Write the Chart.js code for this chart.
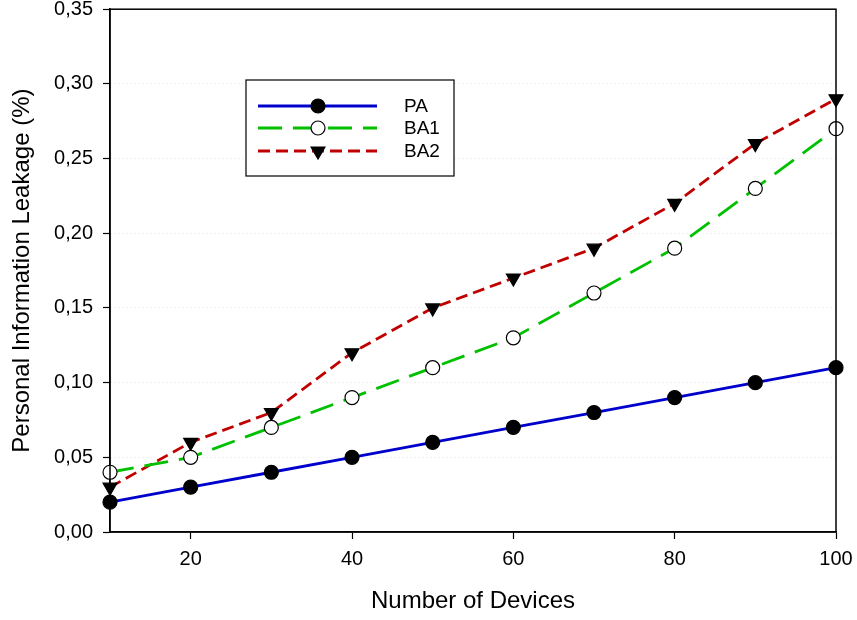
<!DOCTYPE html>
<html>
<head>
<meta charset="utf-8">
<script src="https://cdn.jsdelivr.net/npm/chart.js@4/dist/chart.umd.min.js"></script>
<style>
  body { margin: 0; background: #fff; }
  #wrap { width: 857px; height: 620px; }
</style>
</head>
<body>
<div id="wrap"><canvas id="grafico"></canvas></div>
<script>
// dados
var devices = [10, 20, 30, 40, 50, 60, 70, 80, 90, 100];
var xTicks = [20, 40, 60, 80, 100];
var valPA  = [0.02, 0.03, 0.04, 0.05, 0.06, 0.07, 0.08, 0.09, 0.10, 0.11];
var valBA1 = [0.04, 0.05, 0.07, 0.09, 0.11, 0.13, 0.16, 0.19, 0.23, 0.27];
var valBA2 = [0.03, 0.06, 0.08, 0.12, 0.15, 0.17, 0.19, 0.22, 0.26, 0.29];
var nomes = ['PA', 'BA1', 'BA2'];

function pares(vals) {
  return devices.map(function (d, i) { return { x: d, y: vals[i] }; });
}

var fonte = '"Liberation Sans", Arial, sans-serif';

// caixa em volta da area do grafico
var moldura = {
  id: 'moldura',
  afterDatasetsDraw: function (chart) {
    var a = chart.chartArea, ctx = chart.ctx;
    ctx.save();
    ctx.strokeStyle = '#000';
    ctx.lineWidth = 1.5;
    ctx.strokeRect(a.left, a.top, a.right - a.left, a.bottom - a.top);
    ctx.restore();
  }
};

// legenda desenhada dentro da area
var legendaCaixa = {
  id: 'legendaCaixa',
  afterDraw: function (chart) {
    var ctx = chart.ctx;
    var bx = 246, by = 80, bw = 208, bh = 96;
    ctx.save();
    ctx.fillStyle = '#fff';
    ctx.fillRect(bx, by, bw, bh);
    ctx.strokeStyle = '#000';
    ctx.lineWidth = 1.2;
    ctx.strokeRect(bx, by, bw, bh);
    var linhas = [106, 128, 151];
    chart.data.datasets.forEach(function (ds, i) {
      var y = linhas[i];
      ctx.save();
      ctx.strokeStyle = ds.borderColor;
      ctx.lineWidth = ds.borderWidth;
      ctx.setLineDash(ds.borderDash || []);
      ctx.beginPath();
      ctx.moveTo(258, y);
      ctx.lineTo(377, y);
      ctx.stroke();
      ctx.restore();

      ctx.save();
      ctx.fillStyle = ds.pointBackgroundColor;
      ctx.strokeStyle = ds.pointBorderColor;
      ctx.lineWidth = ds.pointBorderWidth;
      Chart.helpers.drawPoint(ctx, {
        pointStyle: ds.pointStyle,
        rotation: ds.pointRotation || 0,
        radius: ds.pointRadius,
        borderWidth: ds.pointBorderWidth
      }, 318, y);
      ctx.restore();

      ctx.fillStyle = '#000';
      ctx.font = '19px ' + fonte;
      ctx.textBaseline = 'middle';
      ctx.fillText(nomes[i], 404, y + 1);
    });
    ctx.restore();
  }
};

var ctx = document.getElementById('grafico').getContext('2d');
var chart = new Chart(ctx, {
  type: 'line',
  data: {
    datasets: [
      {
        label: 'PA',
        data: pares(valPA),
        borderColor: '#0000cc',
        borderWidth: 2.8,
        pointStyle: 'circle',
        pointRadius: 7,
        pointBackgroundColor: '#000',
        pointBorderColor: '#000',
        pointBorderWidth: 1.2
      },
      {
        label: 'BA1',
        data: pares(valBA1),
        borderColor: '#00c000',
        borderWidth: 2.8,
        borderDash: [24, 11],
        pointStyle: 'circle',
        pointRadius: 7,
        pointBackgroundColor: '#fff',
        pointBorderColor: '#000',
        pointBorderWidth: 1.2
      },
      {
        label: 'BA2',
        data: pares(valBA2),
        borderColor: '#c00000',
        borderWidth: 2.8,
        borderDash: [12, 6],
        pointStyle: 'triangle',
        pointRotation: 180,
        pointRadius: 8,
        pointBackgroundColor: '#000',
        pointBorderColor: '#000',
        pointBorderWidth: 1.2
      }
    ]
  },
  options: {
    responsive: true,
    maintainAspectRatio: false,
    animation: false,
    clip: false,
    layout: { padding: { left: 0, right: 21, top: 9, bottom: 0 } },
    plugins: {
      legend: { display: false },
      tooltip: { enabled: false }
    },
    scales: {
      x: {
        type: 'linear',
        min: 10,
        max: 100,
        afterBuildTicks: function (axis) {
          axis.ticks = xTicks.map(function (v) { return { value: v }; });
        },
        afterFit: function (axis) {
          axis.height = 88;
          axis.paddingLeft = 0;
          axis.paddingRight = 0;
        },
        grid: { drawOnChartArea: false, drawTicks: true, tickLength: 7, tickColor: '#000', tickWidth: 1.2 },
        border: { display: true, color: '#000', width: 1.5 },
        ticks: { color: '#000', font: { family: fonte, size: 20 }, padding: 8, maxRotation: 0 },
        title: { display: true, text: 'Number of Devices', color: '#000', font: { family: fonte, size: 24 }, padding: { top: 14 } }
      },
      y: {
        min: 0,
        max: 0.35,
        afterFit: function (axis) {
          axis.width = 110;
          axis.paddingTop = 0;
          axis.paddingBottom = 0;
        },
        grid: { color: '#e4e4e4', lineWidth: 1, drawTicks: true, tickLength: 7, tickColor: '#000', tickWidth: 1.2 },
        border: { display: true, color: '#000', width: 1.5, dash: [1, 3] },
        ticks: {
          stepSize: 0.05,
          color: '#000',
          font: { family: fonte, size: 20 },
          padding: 10,
          callback: function (v) { return v.toFixed(2).replace('.', ','); }
        },
        title: { display: true, text: 'Personal Information Leakage (%)', color: '#000', font: { family: fonte, size: 24 }, padding: { top: 8, bottom: 0 } }
      }
    }
  },
  plugins: [moldura, legendaCaixa]
});
</script>
</body>
</html>
